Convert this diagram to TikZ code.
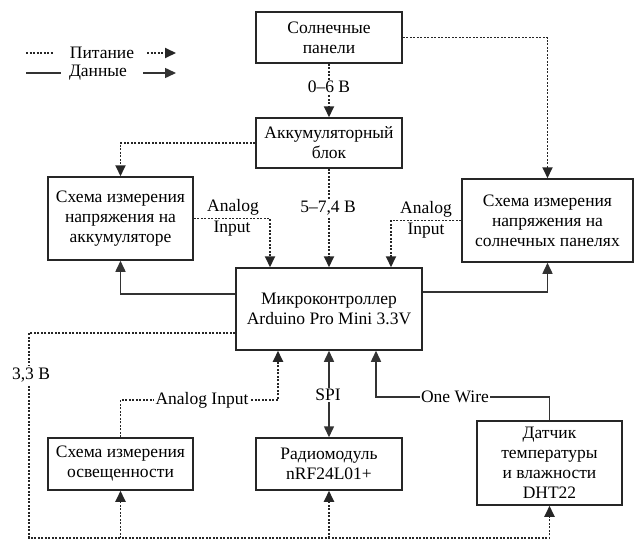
\documentclass[tikz,border=0pt]{standalone}
\usepackage{fontspec}
\setmainfont{Liberation Serif}
\usetikzlibrary{arrows.meta}
\begin{document}
\begin{tikzpicture}[x=1pt,y=-1pt,
 box/.style={draw=black!85, line width=1.5pt, fill=white, align=center, inner sep=0pt, font=\fontsize{17.5}{20}\selectfont},
 pw/.style={line width=1.9pt, black!85, dash pattern=on 2pt off 1.5pt},
 dt/.style={line width=1.5pt, black!80},
 tip/.style={-{Triangle[length=11pt,width=10pt]}},
 lbl/.style={font=\fontsize{17.5}{20}\selectfont, inner sep=1.5pt, align=center},
 lblw/.style={lbl, fill=white}]
\useasboundingbox (0,0) rectangle (640,541);

% boxes
\node[box, minimum width=146pt, minimum height=51pt] (sol) at (329,37.5) {Солнечные\\панели};
\node[box, minimum width=146pt, minimum height=50pt] (acc) at (329,143) {Аккумуляторный\\блок};
\node[box, minimum width=145pt, minimum height=83pt] (bat) at (120.5,218.5) {Схема измерения\\напряжения на\\аккумуляторе};
\node[box, minimum width=171pt, minimum height=83pt] (smeas) at (547.5,220.5) {Схема измерения\\напряжения на\\солнечных панелях};
\node[box, minimum width=186pt, minimum height=82pt] (mcu) at (329,309) {Микроконтроллер\\Arduino Pro Mini 3.3V};
\node[box, minimum width=145pt, minimum height=52pt] (light) at (120.5,464) {Схема измерения\\освещенности};
\node[box, minimum width=146pt, minimum height=52pt] (radio) at (329,464) {Радиомодуль\\nRF24L01+};
\node[box, minimum width=145pt, minimum height=84pt] (dht) at (549.5,463) {Датчик\\температуры\\и влажности\\DHT22};

% power
\draw[pw,tip] (sol) -- (acc);
\node[lblw] (l06) at (329,87) {0–6 В};
\draw[pw,tip] (sol.east) -| (smeas.north);
\draw[pw,tip] (acc.west) -| (bat.north);
\draw[pw,tip] (acc) -- (mcu);
\node[lblw] (l57) at (328,208) {5–7,4 В};

% analog inputs
\draw[pw,tip] (bat.east) -| ([xshift=-59pt]mcu.north);
\node[lbl] (ai1a) at (233,207) {Analog};
\node[lbl] (ai1b) at (232,229) {Input};
\draw[pw,tip] (smeas.west) -| ([xshift=62pt]mcu.north);
\node[lbl] (ai2a) at (426,209) {Analog};
\node[lbl] (ai2b) at (426,231) {Input};

% data to measurement boxes
\draw[dt,tip] ([yshift=15pt]mcu.west) -| (bat.south);
\draw[dt,tip] ([yshift=17pt]mcu.east) -| (smeas.south);

% 3.3 V bus
\coordinate (bl) at (29,538);
\draw[pw,tip] ([yshift=-24pt]mcu.west) -| (bl) -| (dht.south);
\draw[pw,tip] (light.south |- bl) -- (light.south);
\draw[pw,tip] (radio.south |- bl) -- (radio.south);
\node[lblw] (l33) at (31,375) {3,3 В};

% light analog input
\coordinate (ai) at (202,400);
\draw[pw,tip] (light.north) |- (ai) -| ([xshift=-51pt]mcu.south);
\node[lblw] (ai3) at (ai) {Analog Input};

% SPI
\draw[dt,{Triangle[length=11pt,width=10pt]}-{Triangle[length=11pt,width=10pt]}] (mcu) -- (radio);
\node[lblw] (spi) at (328,395) {SPI};

% One Wire
\coordinate (ow) at (455,397);
\draw[dt,tip] (dht.north) |- (ow) -| ([xshift=47pt]mcu.south);
\node[lblw] (onew) at (ow) {One Wire};

% legend
\coordinate (lg1a) at (26,53); \coordinate (lg1b) at (53,53);
\coordinate (lg1c) at (147,53); \coordinate (lg1d) at (176,53);
\draw[pw] (lg1a) -- (lg1b);
\node[lbl] (lgp) at (102,53) {Питание};
\draw[pw,tip] (lg1c) -- (lg1d);
\coordinate (lg2a) at (26,73); \coordinate (lg2b) at (61,73);
\coordinate (lg2c) at (143,73); \coordinate (lg2d) at (176,73);
\draw[dt] (lg2a) -- (lg2b);
\node[lbl] (lgd) at (98,73) {Данные};
\draw[dt,tip] (lg2c) -- (lg2d);
\end{tikzpicture}
\end{document}
